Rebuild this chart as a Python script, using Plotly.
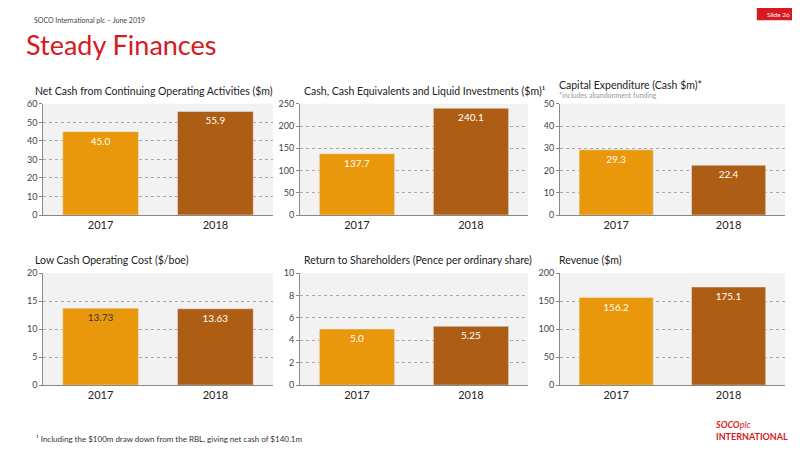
import plotly.graph_objects as go

years = ["2017", "2018"]
titles = ["Net Cash from Continuing Operating Activities ($m)",
          "Cash, Cash Equivalents and Liquid Investments ($m)¹",
          "Capital Expenditure (Cash $m)*",
          "Low Cash Operating Cost ($/boe)",
          "Return to Shareholders (Pence per ordinary share)",
          "Revenue ($m)"]
values = [[45.0, 55.9], [137.7, 240.1], [29.3, 22.4],
          [13.73, 13.63], [5.0, 5.25], [156.2, 175.1]]
labels = [["45.0", "55.9"], ["137.7", "240.1"], ["29.3", "22.4"],
          ["13.73", "13.63"], ["5.0", "5.25"], ["156.2", "175.1"]]
ranges = [60, 250, 50, 20, 10, 200]
dticks = [10, 50, 10, 5, 2, 50]
colors = ["#E8980A", "#AE5E14"]

xdom = [(0.044, 0.331), (0.365, 0.65), (0.69, 0.971)]
ydom = [(0.54, 0.787), (0.162, 0.411)]
title_y = [0.815, 0.815, 0.829, 0.44, 0.44, 0.44]
title_x = [0.031, 0.367, 0.686, 0.031, 0.367, 0.686]

fig = go.Figure()
F = "Lato"
for i in range(6):
    r, c = divmod(i, 3)
    ax = "" if i == 0 else str(i + 1)
    tcol = ["#333333" if labels[i][j] == "13.73" else "white" for j in range(2)]
    fig.add_trace(go.Bar(x=years, y=values[i], marker_color=colors, text=labels[i],
                         textposition="inside", insidetextanchor="end",
                         textfont=dict(color=tcol, size=10, family=F),
                         xaxis="x" + ax, yaxis="y" + ax, showlegend=False,
                         hoverinfo="skip"))
    fig.layout["xaxis" + ax] = dict(domain=xdom[c], anchor="y" + ax, showgrid=False,
                                    automargin=False,
                                    tickfont=dict(size=11, family=F, color="#222"),
                                    showline=True, linecolor="#888")
    fig.layout["yaxis" + ax] = dict(domain=ydom[r], anchor="x" + ax, range=[0, ranges[i]],
                                    dtick=dticks[i], showgrid=True, gridcolor="#aaa",
                                    automargin=False,
                                    griddash="dot", zeroline=False, showline=True,
                                    linecolor="#888", ticks="outside", ticklen=3,
                                    tickcolor="#888",
                                    tickfont=dict(size=9, family=F, color="#444"))
    fig.add_shape(type="rect", xref="x" + ax + " domain", yref="y" + ax + " domain",
                  x0=0, x1=1, y0=0, y1=1, fillcolor="#f2f2f2", line_width=0, layer="below")
    fig.add_annotation(text=titles[i], xref="paper", yref="paper",
                       x=title_x[i], y=title_y[i], xanchor="left",
                       yanchor="middle", showarrow=False,
                       font=dict(size=10.5, family=F, color="#222"))

fig.add_annotation(text="*includes abandonment funding", xref="paper", yref="paper",
                   x=0.686, y=0.807, xanchor="left", yanchor="middle", showarrow=False,
                   font=dict(size=7, family=F, color="#999"))
fig.add_annotation(text="SOCO International plc – June 2019", xref="paper", yref="paper",
                   x=0.03, y=0.973, xanchor="left", yanchor="middle", showarrow=False,
                   font=dict(size=7, family=F, color="#444"))
fig.add_annotation(text="Steady Finances", xref="paper", yref="paper",
                   x=0.02, y=0.918, xanchor="left", yanchor="middle", showarrow=False,
                   font=dict(size=27, family=F, color="#D71920"))
fig.add_shape(type="rect", xref="paper", yref="paper", x0=0.936, x1=0.99, y0=0.973, y1=1,
              fillcolor="#D71920", line_width=0)
fig.add_annotation(text="Slide 26", xref="paper", yref="paper",
                   x=0.946, y=0.986, xanchor="left", yanchor="middle", showarrow=False,
                   font=dict(size=6.5, family=F, color="white"))
fig.add_annotation(text="¹ Including the $100m draw down from the RBL, giving net cash of $140.1m",
                   xref="paper", yref="paper", x=0.033, y=0.042, xanchor="left",
                   yanchor="middle", showarrow=False, font=dict(size=8, family=F, color="#333"))
fig.add_annotation(text="<b><i>SOCO</i></b><i>plc</i><br><b>INTERNATIONAL</b>", xref="paper",
                   yref="paper", x=0.977, y=0.062, xanchor="right", yanchor="middle",
                   showarrow=False, align="left",
                   font=dict(size=9, family=F, color="#D71920"))

fig.update_layout(width=800, height=450, margin=dict(l=0, r=0, t=0, b=0, autoexpand=False),
                  plot_bgcolor="white", paper_bgcolor="white", bargap=0.34)
fig.write_html("out.html")
